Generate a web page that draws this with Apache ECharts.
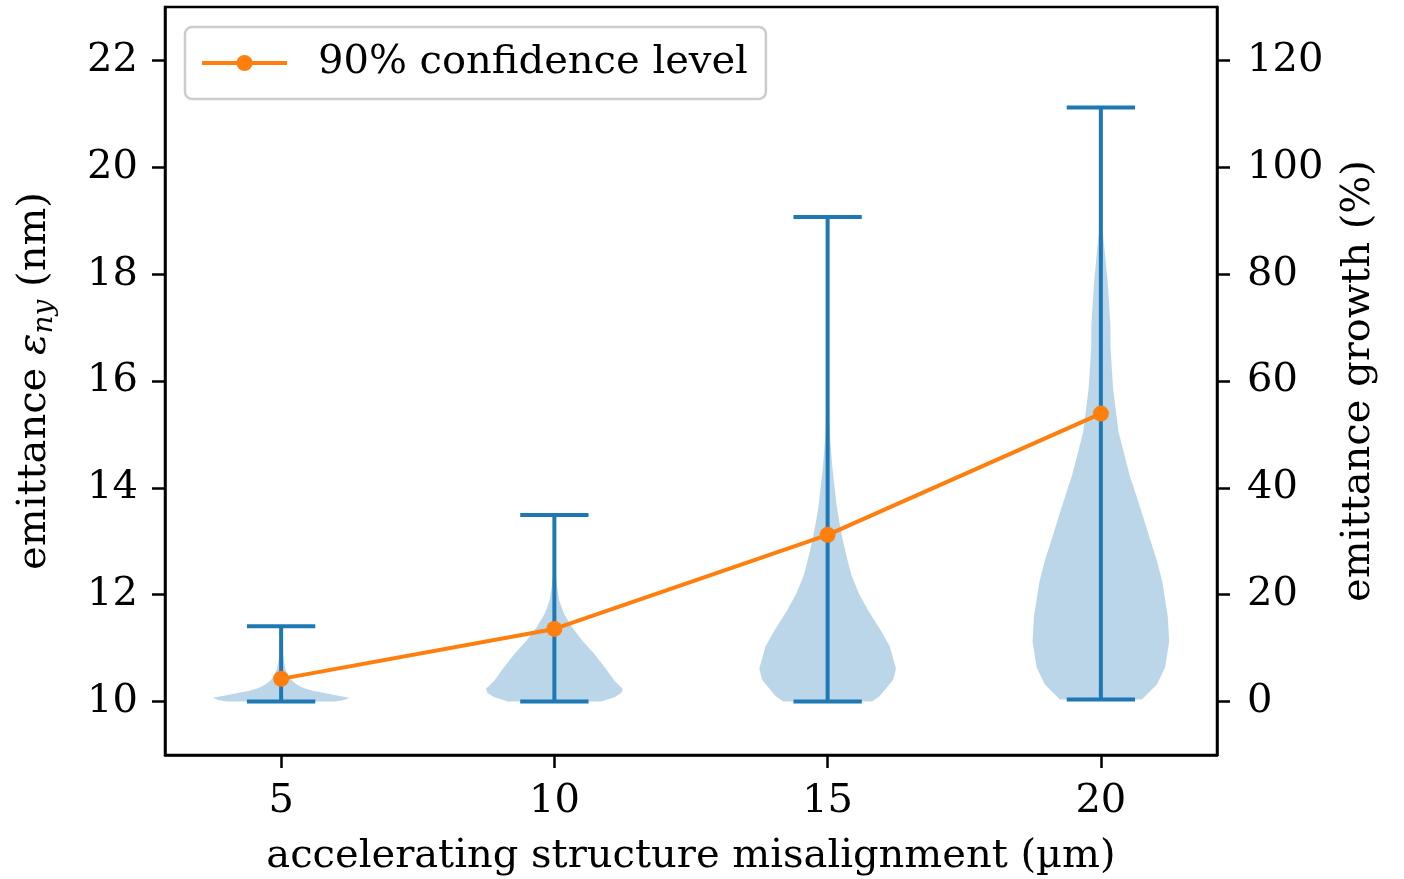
<!DOCTYPE html>
<html><head><meta charset="utf-8">
<script src="https://cdn.jsdelivr.net/npm/echarts@6/dist/echarts.min.js"></script>
<style>html,body{margin:0;padding:0;background:#fff}#c{width:1404px;height:879px}</style>
</head><body><div id="c"></div>
<script>
// ---- data ----
const positions = [5, 10, 15, 20];
const xTicks = [5, 10, 15, 20];
const leftTicks = [10, 12, 14, 16, 18, 20, 22];
const rightTicks = [0, 20, 40, 60, 80, 100, 120];
const extremaMin = [10.0, 10.0, 10.0, 10.04];
const extremaMax = [11.41, 13.49, 19.07, 21.12];
const confidence90 = [4.25, 13.6, 31.2, 53.9]; // emittance growth (%)
const legendName = '90% confidence level';
// violin profiles: [emittance (nm), relative density (1 = widest)]
const violin5 = [[10.00,0.80],[10.03,0.92],[10.07,1.00],[10.10,0.88],[10.13,0.76],[10.17,0.60],[10.20,0.48],[10.24,0.36],[10.28,0.28],[10.33,0.22],[10.39,0.16],[10.45,0.12],[10.50,0.10],[10.60,0.064],[10.75,0.04],[10.95,0.024],[11.20,0.012],[11.41,0.006]];
const violin10 = [[10.00,0.68],[10.08,0.88],[10.16,0.98],[10.24,1.00],[10.39,0.88],[10.64,0.74],[10.90,0.58],[11.14,0.41],[11.39,0.26],[11.65,0.14],[11.89,0.07],[12.14,0.04],[12.40,0.02],[12.80,0.01],[13.49,0.004]];
const violin15 = [[10.00,0.65],[10.10,0.76],[10.22,0.84],[10.41,0.96],[10.62,1.00],[11.03,0.91],[11.35,0.77],[11.69,0.60],[12.02,0.46],[12.36,0.35],[12.70,0.28],[13.04,0.22],[13.37,0.17],[13.69,0.13],[14.03,0.10],[14.37,0.07],[14.70,0.05],[15.04,0.03],[15.50,0.02],[16.50,0.01],[17.50,0.006],[19.07,0.003]];
const violin20 = [[10.04,0.60],[10.32,0.82],[10.64,0.94],[11.12,1.00],[11.59,0.98],[12.24,0.90],[12.64,0.82],[13.04,0.72],[13.45,0.62],[13.85,0.52],[14.24,0.42],[14.64,0.34],[15.04,0.26],[15.44,0.22],[15.85,0.18],[16.24,0.16],[16.66,0.14],[17.05,0.14],[17.44,0.12],[17.85,0.10],[18.24,0.07],[18.64,0.04],[18.88,0.02],[19.50,0.008],[20.30,0.004],[21.12,0.002]];
const profiles = [violin5, violin10, violin15, violin20];

// ---- styles ----
const FONT = "'DejaVu Serif', serif";
const FS = 40;
const HALF_WIDTH = 1.25;   // violin half width in x units
const CAP_HALF = 0.625;    // extrema cap half length
const C0 = '#1f77b4', C1 = '#ff7f0e';

const chart = echarts.init(document.getElementById('c'), null, {renderer: 'canvas'});

function renderViolin(params, api) {
  const i = params.dataIndex;
  const pos = api.value(0);
  const prof = profiles[i];
  const pts = [];
  for (let k = 0; k < prof.length; k++) pts.push(api.coord([pos + prof[k][1] * HALF_WIDTH, prof[k][0]]));
  for (let k = prof.length - 1; k >= 0; k--) pts.push(api.coord([pos - prof[k][1] * HALF_WIDTH, prof[k][0]]));
  return {type: 'polygon', shape: {points: pts}, style: {fill: 'rgba(31,119,180,0.3)', stroke: null}};
}
function renderExtrema(params, api) {
  const pos = api.value(0), lo = api.value(1), hi = api.value(2);
  const a = api.coord([pos, lo]), b = api.coord([pos, hi]);
  const l1 = api.coord([pos - CAP_HALF, lo]), r1 = api.coord([pos + CAP_HALF, lo]);
  const l2 = api.coord([pos - CAP_HALF, hi]), r2 = api.coord([pos + CAP_HALF, hi]);
  const st = {stroke: C0, lineWidth: 4};
  return {type: 'group', children: [
    {type: 'line', shape: {x1: a[0], y1: a[1], x2: b[0], y2: b[1]}, style: st},
    {type: 'line', shape: {x1: l1[0], y1: l1[1], x2: r1[0], y2: r1[1]}, style: st},
    {type: 'line', shape: {x1: l2[0], y1: l2[1], x2: r2[0], y2: r2[1]}, style: st}
  ]};
}

const axisCommon = {
  axisLine: {show: true, onZero: false, lineStyle: {color: '#000', width: 2.5}},
  axisTick: {show: true, inside: false, length: 13, lineStyle: {color: '#000', width: 2.5}},
  splitLine: {show: false},
};

chart.setOption({
  animation: false,
  backgroundColor: '#fff',
  grid: {left: 165, right: 187, top: 7, bottom: 124, outerBoundsMode: 'none', containLabel: false,
         show: true, borderColor: '#000', borderWidth: 2.5, backgroundColor: 'transparent'},
  legend: {
    data: [legendName], left: 185, top: 27, orient: 'vertical',
    padding: [16, 18, 16, 15], itemWidth: 85, itemHeight: 20,
    lineStyle: {width: 4},
    borderColor: '#cccccc', borderWidth: 2.5, borderRadius: 7, backgroundColor: 'rgba(255,255,255,0.8)',
    textStyle: {fontFamily: FONT, fontSize: FS, color: '#000', padding: [0, 0, 0, 26]}
  },
  xAxis: Object.assign({}, axisCommon, {
    type: 'value', min: 2.875, max: 22.125,
    axisTick: Object.assign({}, axisCommon.axisTick, {customValues: xTicks}),
    axisLabel: {customValues: xTicks, fontFamily: FONT, fontSize: FS, color: '#000', margin: 27},
    name: 'accelerating structure misalignment (µm)', nameLocation: 'middle', nameGap: 82,
    nameTextStyle: {fontFamily: FONT, fontSize: FS, color: '#000'}
  }),
  yAxis: [
    Object.assign({}, axisCommon, {
      type: 'value', min: 9, max: 23, position: 'left',
      axisTick: Object.assign({}, axisCommon.axisTick, {customValues: leftTicks}),
      axisLabel: {customValues: leftTicks, fontFamily: FONT, fontSize: FS, color: '#000', margin: 27},
      name: '{t|emittance }{e|ε}{s|ny}{t| (nm)}', nameLocation: 'middle', nameGap: 106, nameRotate: 90,
      nameTextStyle: {fontFamily: FONT, fontSize: FS, color: '#000', rich: {
        t: {fontFamily: FONT, fontSize: FS, color: '#000', lineHeight: 48},
        e: {fontFamily: FONT, fontSize: FS, fontStyle: 'italic', color: '#000', lineHeight: 48},
        s: {fontFamily: FONT, fontSize: 28, fontStyle: 'italic', color: '#000', lineHeight: 26, verticalAlign: 'bottom'}
      }}
    }),
    Object.assign({}, axisCommon, {
      type: 'value', min: -10, max: 130, position: 'right',
      axisTick: Object.assign({}, axisCommon.axisTick, {customValues: rightTicks}),
      axisLabel: {customValues: rightTicks, fontFamily: FONT, fontSize: FS, color: '#000', margin: 30},
      name: 'emittance growth (%)', nameLocation: 'middle', nameGap: 122, nameRotate: 90,
      nameTextStyle: {fontFamily: FONT, fontSize: FS, color: '#000'}
    })
  ],
  series: [
    {type: 'custom', name: 'violins', xAxisIndex: 0, yAxisIndex: 0, renderItem: renderViolin, z: 1,
     encode: {x: 0, y: [1, 2]}, data: positions.map((p, i) => [p, extremaMin[i], extremaMax[i]]), silent: true},
    {type: 'custom', name: 'extrema', xAxisIndex: 0, yAxisIndex: 0, renderItem: renderExtrema, z: 2,
     encode: {x: 0, y: [1, 2]}, data: positions.map((p, i) => [p, extremaMin[i], extremaMax[i]]), silent: true},
    {type: 'line', name: legendName, xAxisIndex: 0, yAxisIndex: 1, z: 3,
     data: positions.map((p, i) => [p, confidence90[i]]),
     symbol: 'circle', symbolSize: 16, color: C1,
     lineStyle: {color: C1, width: 4}, itemStyle: {color: C1}}
  ]
});
</script></body></html>
